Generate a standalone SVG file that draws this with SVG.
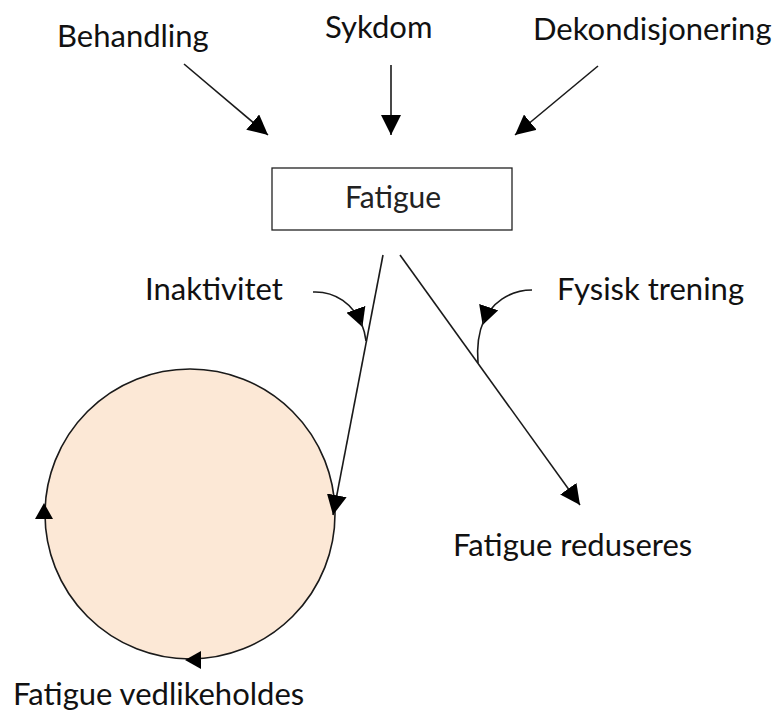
<svg xmlns="http://www.w3.org/2000/svg" width="777" height="713" viewBox="0 0 777 713">
<style>
.lbl{font-family:Lato,"Open Sans","Liberation Sans",sans-serif;font-size:31px;fill:#111}
.box{fill:#fff;stroke:#222;stroke-width:1.3}
.ln{fill:none;stroke:#1a1a1a;stroke-width:1.6}
.head{fill:#000}
</style>
<defs>
<marker id="ah" markerUnits="userSpaceOnUse" markerWidth="20" markerHeight="20" viewBox="0 0 18 18" refX="18" refY="9" orient="auto">
<path d="M0,0 L18,9 L0,18 z" fill="#000"/>
</marker>
<marker id="am" markerUnits="userSpaceOnUse" markerWidth="20" markerHeight="20" viewBox="0 0 18 18" refX="16" refY="9" orient="auto">
<path d="M0,0 L17,9 L0,18 z" fill="#000"/>
</marker>
</defs>
<g id="loop">
<circle cx="190" cy="514" r="145" fill="#FCE8D6" stroke="#1a1a1a" stroke-width="1.6"/>
<polygon class="head" points="44,503 53,519 35,519"/>
<polygon class="head" points="185,660 201,651 201,669"/>
</g>
<g id="node-fatigue">
<rect class="box" x="272" y="168" width="240" height="62"/>
<text x="393" y="208" text-anchor="middle" font-family="Lato,'Open Sans',sans-serif" font-size="30" fill="#222">Fatigue</text>
</g>
<g id="node-behandling"><text class="lbl" x="57" y="47">Behandling</text></g>
<g id="node-sykdom"><text class="lbl" x="325" y="38">Sykdom</text></g>
<g id="node-dekondisjonering"><text class="lbl" x="533" y="40">Dekondisjonering</text></g>
<g id="node-inaktivitet"><text class="lbl" x="145" y="300">Inaktivitet</text></g>
<g id="node-fysisk"><text class="lbl" x="557" y="300">Fysisk trening</text></g>
<g id="node-reduseres"><text class="lbl" x="453" y="556">Fatigue reduseres</text></g>
<g id="node-vedlikeholdes"><text class="lbl" x="13" y="705">Fatigue vedlikeholdes</text></g>
<g id="connectors">
<line class="ln" x1="184" y1="64" x2="268" y2="135" marker-end="url(#ah)"/>
<line class="ln" x1="391" y1="65" x2="391" y2="135" marker-end="url(#ah)"/>
<line class="ln" x1="598" y1="66" x2="515" y2="135" marker-end="url(#ah)"/>
<line class="ln" x1="383" y1="255" x2="333" y2="515" marker-end="url(#ah)"/>
<line class="ln" x1="400" y1="255" x2="580" y2="505" marker-end="url(#ah)"/>
<path class="ln" d="M313,292 C335,291 354,304 362,326" marker-end="url(#am)"/>
<path class="ln" d="M361,322 Q365,332 366,341"/>
<path class="ln" d="M532,290 C510,290 490,303 483,324" marker-end="url(#am)"/>
<path class="ln" d="M484,320 Q476,338 478,363"/>
</g>
</svg>
